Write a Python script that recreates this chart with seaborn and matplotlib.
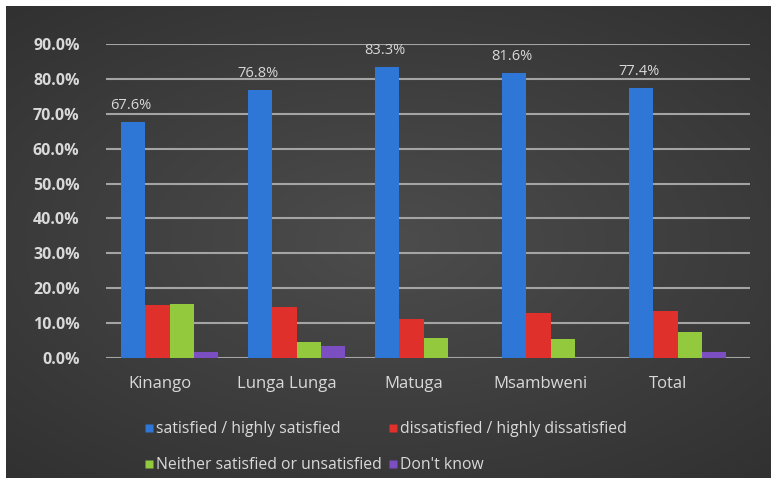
import matplotlib
matplotlib.use("Agg")
import matplotlib.pyplot as plt
import matplotlib.transforms as mtransforms
from matplotlib.ticker import FuncFormatter
import numpy as np
import seaborn as sns
import pandas as pd

categories = ["Kinango", "Lunga Lunga", "Matuga", "Msambweni", "Total"]
series_names = ["satisfied / highly satisfied", "dissatisfied / highly dissatisfied",
                "Neither satisfied or unsatisfied", "Don't know"]
satisfied = [67.6, 76.8, 83.3, 81.6, 77.4]
dissatisfied = [15.3, 14.5, 11.1, 13.0, 13.5]
neither = [15.5, 4.5, 5.6, 5.4, 7.5]
dont_know = [1.6, 3.5, 0.0, 0.0, 1.6]
colors = ["#2f77d6", "#e0302c", "#93c93d", "#7b4fc2"]

rows = []
for name, vals in zip(series_names, [satisfied, dissatisfied, neither, dont_know]):
    for c, v in zip(categories, vals):
        rows.append({"category": c, "series": name, "value": v})
df = pd.DataFrame(rows)

sns.set_theme(style="dark")
plt.rcParams["font.family"] = ["Open Sans", "DejaVu Sans"]

W, H = 777, 483
fig = plt.figure(figsize=(W / 100, H / 100), dpi=100, facecolor="white")

# dark radial-ish background panel
bgax = fig.add_axes([6 / W, 5 / H, 765 / W, 472 / H])
bgax.set_zorder(-10)
yy, xx = np.mgrid[-1:1:200j, -1:1:300j]
r = np.sqrt((xx * 0.9) ** 2 + (yy * 1.0) ** 2)
shade = np.clip(0.30 - 0.08 * r, 0.18, 0.30)
bgax.imshow(np.dstack([shade] * 3), aspect="auto", extent=[0, 1, 0, 1],
            interpolation="bilinear")
bgax.set_axis_off()

ax = fig.add_axes([106 / W, 125 / H, 644 / W, 314 / H])
ax.set_facecolor("none")
ax.set_zorder(5)

sns.barplot(data=df, x="category", y="value", hue="series", palette=colors,
            width=0.76, ax=ax, legend=False, saturation=1, edgecolor="none")

for bar, v in zip(ax.containers[0], satisfied):
    ax.text(bar.get_x() + bar.get_width() / 2 - 0.02, v + 2.6, f"{v:.1f}%",
            ha="center", va="bottom", color="#d8d8d8", fontsize=10.5)

ax.set_ylim(0, 90)
ax.set_xlim(-0.5, 4.57)
ax.set_yticks(range(0, 91, 10))
ax.yaxis.set_major_formatter(FuncFormatter(lambda v, p: f"{v:.1f}%"))
ax.grid(axis="y", color="#a4a4a4", linewidth=1.5)
ax.grid(axis="x", visible=False)
ax.set_axisbelow(True)
for s in ax.spines.values():
    s.set_visible(False)
ax.tick_params(axis="y", colors="#d9d9d9", labelsize=11.5, pad=19, length=0)
ax.tick_params(axis="x", colors="#d9d9d9", labelsize=12, pad=13, length=0)
for lbl in ax.get_yticklabels():
    lbl.set_fontweight("bold")
shift = mtransforms.ScaledTranslation(-10 / 100, 0, fig.dpi_scale_trans)
for lbl in ax.get_xticklabels():
    lbl.set_transform(lbl.get_transform() + shift)
ax.set_xlabel("")
ax.set_ylabel("")

order = [0, 2, 1, 3]
handles = [plt.Line2D([], [], marker="s", linestyle="none", markersize=6,
                      markerfacecolor=colors[i], markeredgecolor="none") for i in order]
labels = [series_names[i] for i in order]
leg = fig.legend(handles, labels, ncol=2, loc="upper left",
                 bbox_to_anchor=(144 / W, 1 - 421 / H), frameon=False,
                 fontsize=11.3, labelcolor="#d9d9d9", handletextpad=0.15,
                 columnspacing=0.4, labelspacing=1.3, handlelength=0.6,
                 borderaxespad=0, borderpad=0)

fig.savefig("out.png", dpi=100, facecolor=fig.get_facecolor())
